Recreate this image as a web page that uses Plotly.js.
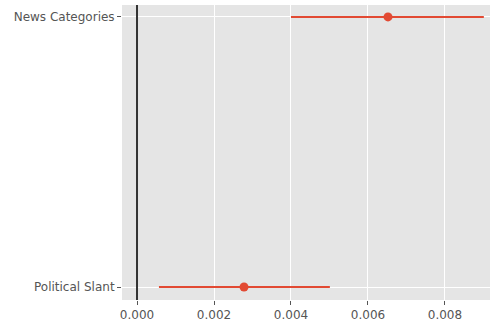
<!DOCTYPE html>
<html><head><meta charset="utf-8">
<script src="https://cdn.plot.ly/plotly-3.0.1.min.js"></script>
<style>body{margin:0;padding:0;background:#fff}</style>
</head><body><div id="chart" style="width:490px;height:323px"></div>
<script>
const categories = ["Political Slant", "News Categories"];
const estimates = [0.00278, 0.00652];
const lowerBounds = [0.00057, 0.00400];
const upperBounds = [0.00501, 0.00901];
const tickValues = [0, 0.002, 0.004, 0.006, 0.008];
const tickLabels = ["0.000", "0.002", "0.004", "0.006", "0.008"];

const yPos = categories.map((c, i) => i);
const trace = {
  type: "scatter", mode: "markers",
  x: estimates, y: yPos,
  marker: {color: "#E24A33", size: 9},
  error_x: {
    type: "data", symmetric: false,
    array: estimates.map((e, i) => upperBounds[i] - e),
    arrayminus: estimates.map((e, i) => e - lowerBounds[i]),
    color: "#E24A33", thickness: 2, width: 0
  },
  hoverinfo: "skip"
};
const layout = {
  width: 490, height: 323,
  margin: {l: 122, r: 0, t: 5, b: 23},
  paper_bgcolor: "#fff", plot_bgcolor: "#E5E5E5",
  font: {family: "DejaVu Sans", size: 12, color: "#555555"},
  showlegend: false,
  xaxis: {
    range: [-0.00039, 0.00917],
    tickvals: tickValues, ticktext: tickLabels,
    showgrid: true, gridcolor: "#ffffff", gridwidth: 1,
    zeroline: false, ticks: "outside", ticklen: 4, tickcolor: "#555555",
    showline: false
  },
  yaxis: {
    range: [-0.048, 1.044],
    tickvals: yPos, ticktext: categories,
    showgrid: true, gridcolor: "#ffffff", gridwidth: 1,
    zeroline: false, ticks: "outside", ticklen: 4, tickcolor: "#555555",
    showline: false
  },
  shapes: [{type: "line", xref: "x", yref: "paper", x0: 0, x1: 0, y0: 0, y1: 1,
    line: {color: "#333333", width: 2}, layer: "above"}]
};
Plotly.newPlot("chart", [trace], layout, {displayModeBar: false, staticPlot: true});
</script></body></html>
